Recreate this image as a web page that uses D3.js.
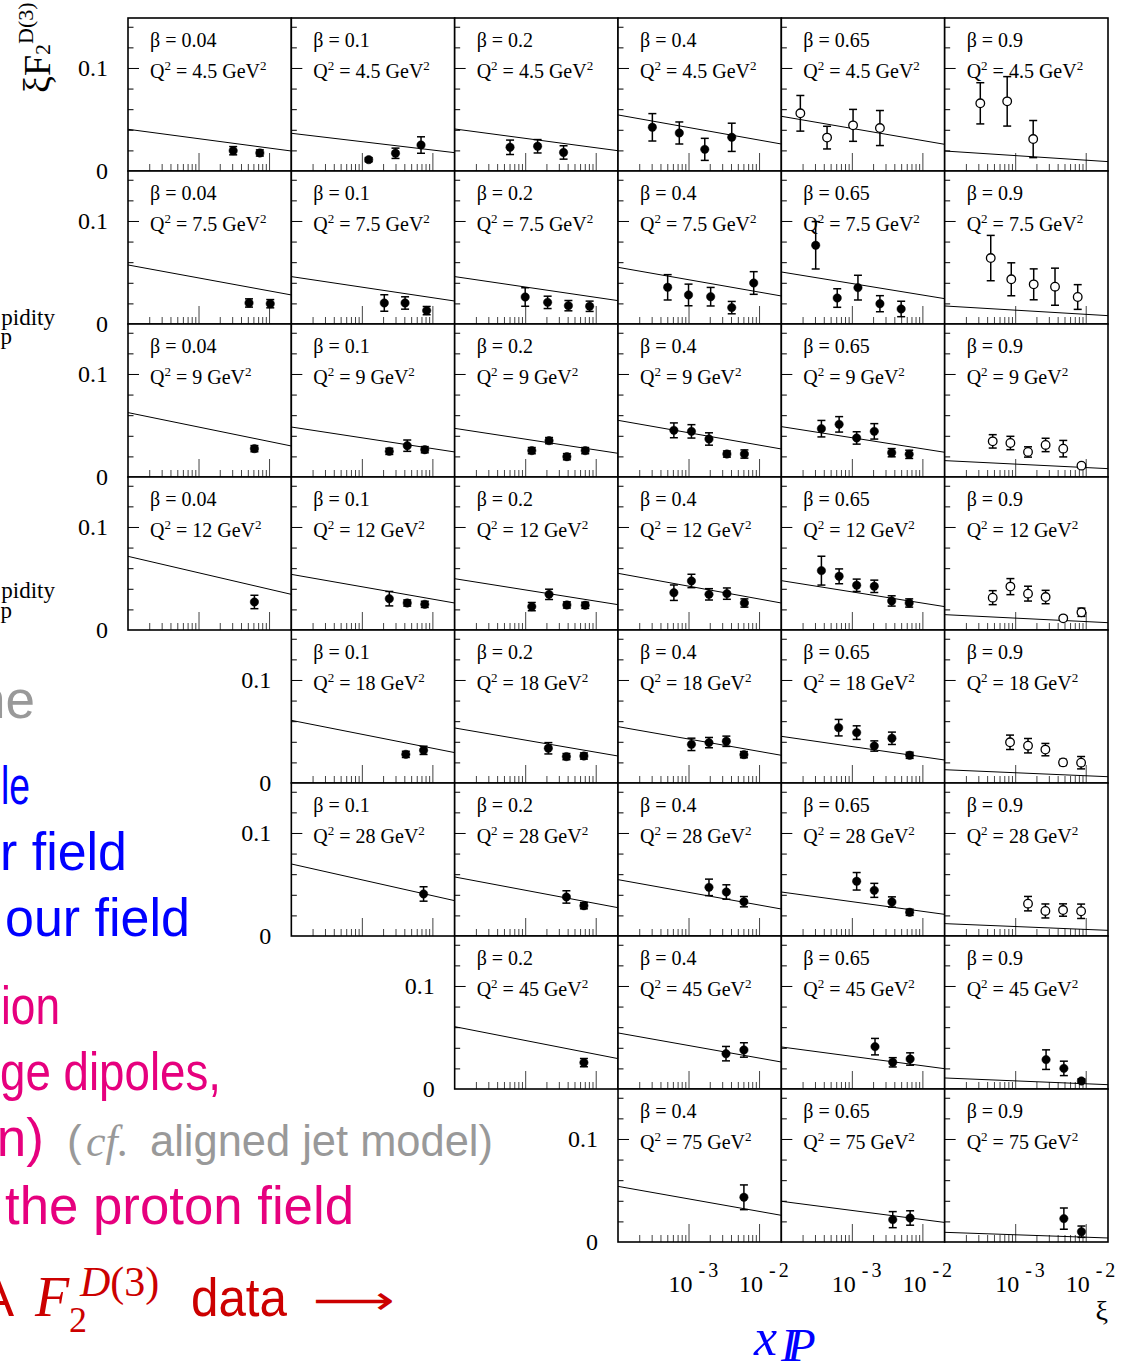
<!DOCTYPE html>
<html>
<head>
<meta charset="utf-8">
<script src="https://cdn.jsdelivr.net/npm/d3@7"></script>
<style>
  body { margin: 0; background: #fff; }
  svg { display: block; }
</style>
</head>
<body>
<svg id="chart" width="1135" height="1364"></svg>
<script>
// chart values
const betas = ["0.04", "0.1", "0.2", "0.4", "0.65", "0.9"];
const q2s = ["4.5", "7.5", "9", "12", "18", "28", "45", "75"];
const firstCol = [0, 0, 0, 0, 1, 1, 2, 3];
const yTickLabels = [[0, "0"], [0.1, "0.1"]];
const xTickLabels = [[1e-3, "-3"], [1e-2, "-2"]];

// model curve, value at left and right edge of every panel (row = Q2, col = beta)
const curveLeft = [
    [0.0405, 0.0366, 0.0408, 0.0544, 0.0531, 0.0194],
    [0.0573, 0.0460, 0.0460, 0.0550, 0.0505, 0.0175],
    [0.0625, 0.0485, 0.0472, 0.0550, 0.0489, 0.0159],
    [0.0715, 0.0540, 0.0498, 0.0550, 0.0479, 0.0149],
    [null, 0.0608, 0.0534, 0.0547, 0.0453, 0.0129],
    [null, 0.0699, 0.0573, 0.0547, 0.0427, 0.0120],
    [null, null, 0.0605, 0.0544, 0.0408, 0.0107],
    [null, null, null, 0.0540, 0.0395, 0.0094]
];
const curveRight = [
    [0.0194, 0.0178, 0.0197, 0.0262, 0.0259, 0.0091],
    [0.0282, 0.0223, 0.0227, 0.0272, 0.0246, 0.0081],
    [0.0301, 0.0243, 0.0230, 0.0272, 0.0240, 0.0081],
    [0.0346, 0.0262, 0.0246, 0.0262, 0.0227, 0.0071],
    [null, 0.0295, 0.0262, 0.0269, 0.0223, 0.0061],
    [null, 0.0343, 0.0275, 0.0262, 0.0210, 0.0055],
    [null, null, 0.0295, 0.0262, 0.0197, 0.0042],
    [null, null, null, 0.0259, 0.0190, 0.0039]
];

// data points: [beta index, xi, xi F2D3, error]
const ptsQ4_5 = [
    [0, 0.0031, 0.0197, 0.004], [0, 0.0074, 0.0175, 0.003],
    [1, 0.00125, 0.011, 0.002], [1, 0.0030, 0.0172, 0.005], [1, 0.0069, 0.0252, 0.008],
    [2, 0.00061, 0.023, 0.007], [2, 0.0015, 0.024, 0.0065], [2, 0.0035, 0.018, 0.0065],
    [3, 0.000307, 0.0424, 0.0133], [3, 0.00074, 0.0369, 0.0107], [3, 0.0017, 0.021, 0.0107], [3, 0.0041, 0.0327, 0.0137],
    [4, 0.000186, 0.056, 0.0173], [4, 0.000445, 0.0324, 0.011], [4, 0.00104, 0.0443, 0.0155], [4, 0.0025, 0.0417, 0.017],
    [5, 0.00032, 0.0657, 0.020], [5, 0.00077, 0.0676, 0.024], [5, 0.0018, 0.031, 0.018]
];
const ptsQ7_5 = [
    [0, 0.0052, 0.0204, 0.004], [0, 0.0104, 0.0197, 0.004],
    [1, 0.00208, 0.0204, 0.008], [1, 0.0041, 0.0204, 0.006], [1, 0.0083, 0.013, 0.004],
    [2, 0.0010, 0.0262, 0.009], [2, 0.00208, 0.021, 0.006], [2, 0.0041, 0.0178, 0.005], [2, 0.0082, 0.0172, 0.005],
    [3, 0.000506, 0.0356, 0.0123], [3, 0.0010, 0.0282, 0.0105], [3, 0.00206, 0.0265, 0.009], [3, 0.0041, 0.0159, 0.006], [3, 0.0084, 0.0398, 0.011],
    [4, 0.000307, 0.0764, 0.023], [4, 0.00062, 0.0252, 0.009], [4, 0.00122, 0.0353, 0.012], [4, 0.0025, 0.0197, 0.0078], [4, 0.0050, 0.0146, 0.0075],
    [5, 0.00045, 0.064, 0.022], [5, 0.00088, 0.0434, 0.016], [5, 0.00183, 0.0385, 0.015], [5, 0.00367, 0.0362, 0.018], [5, 0.0077, 0.0262, 0.012]
];
const ptsQ9 = [
    [0, 0.0062, 0.0275, 0.003],
    [1, 0.00245, 0.0249, 0.003], [1, 0.0044, 0.0304, 0.0055], [1, 0.0078, 0.0265, 0.003],
    [2, 0.00124, 0.0256, 0.003], [2, 0.00218, 0.0353, 0.003], [2, 0.0039, 0.0197, 0.003], [2, 0.0071, 0.0256, 0.003],
    [3, 0.00062, 0.0453, 0.0072], [3, 0.0011, 0.0443, 0.0065], [3, 0.00195, 0.0369, 0.006], [3, 0.0035, 0.0223, 0.003], [3, 0.0062, 0.0223, 0.004],
    [4, 0.00037, 0.0469, 0.008], [4, 0.00066, 0.0511, 0.0075], [4, 0.00117, 0.0379, 0.006], [4, 0.00208, 0.0443, 0.0075], [4, 0.00367, 0.0236, 0.004], [4, 0.0065, 0.022, 0.004],
    [5, 0.00048, 0.0346, 0.0065], [5, 0.000855, 0.033, 0.0065], [5, 0.00152, 0.0243, 0.005], [5, 0.0027, 0.0311, 0.0065], [5, 0.0048, 0.0275, 0.008], [5, 0.0087, 0.011, 0.002]
];
const ptsQ12 = [
    [0, 0.0062, 0.0272, 0.0065],
    [1, 0.00245, 0.0304, 0.007], [1, 0.0044, 0.0262, 0.003], [1, 0.0078, 0.0249, 0.003],
    [2, 0.00124, 0.0227, 0.004], [2, 0.00218, 0.0346, 0.005], [2, 0.0039, 0.0243, 0.003], [2, 0.0071, 0.024, 0.003],
    [3, 0.00062, 0.0362, 0.0075], [3, 0.0011, 0.0476, 0.0065], [3, 0.00195, 0.0346, 0.0055], [3, 0.0035, 0.0353, 0.0055], [3, 0.0062, 0.0262, 0.004],
    [4, 0.00037, 0.0576, 0.014], [4, 0.00066, 0.0521, 0.0072], [4, 0.00117, 0.0434, 0.006], [4, 0.00208, 0.0424, 0.006], [4, 0.00367, 0.0282, 0.005], [4, 0.0065, 0.0262, 0.004],
    [5, 0.00048, 0.0314, 0.0068], [5, 0.000855, 0.0421, 0.0078], [5, 0.00152, 0.0353, 0.0072], [5, 0.0027, 0.032, 0.0065], [5, 0.0048, 0.0113, 0.002], [5, 0.0087, 0.0172, 0.004]
];
const ptsQ18 = [
    [1, 0.0042, 0.0278, 0.003], [1, 0.0075, 0.0317, 0.004],
    [2, 0.00213, 0.0337, 0.0055], [2, 0.00384, 0.0256, 0.003], [2, 0.0068, 0.0262, 0.003],
    [3, 0.0011, 0.0375, 0.006], [3, 0.00195, 0.0392, 0.005], [3, 0.00344, 0.0405, 0.005], [3, 0.0061, 0.0275, 0.003],
    [4, 0.00065, 0.0537, 0.008], [4, 0.00117, 0.0489, 0.0066], [4, 0.00208, 0.0359, 0.005], [4, 0.0037, 0.0434, 0.006], [4, 0.0066, 0.0269, 0.003],
    [5, 0.000845, 0.0395, 0.007], [5, 0.00152, 0.0362, 0.007], [5, 0.00268, 0.0324, 0.006], [5, 0.00477, 0.020, 0.003], [5, 0.0086, 0.0197, 0.006]
];
const ptsQ28 = [
    [1, 0.0075, 0.0408, 0.007],
    [2, 0.00384, 0.0379, 0.006], [2, 0.0068, 0.0294, 0.003],
    [3, 0.00195, 0.0472, 0.008], [3, 0.00344, 0.0427, 0.007], [3, 0.0061, 0.0333, 0.005],
    [4, 0.00117, 0.0531, 0.0085], [4, 0.00208, 0.0443, 0.0068], [4, 0.0037, 0.033, 0.005], [4, 0.0066, 0.023, 0.003],
    [5, 0.00152, 0.0314, 0.007], [5, 0.00268, 0.0243, 0.0068], [5, 0.00477, 0.0252, 0.006], [5, 0.0086, 0.024, 0.007]
];
const ptsQ45 = [
    [2, 0.0068, 0.0256, 0.004],
    [3, 0.0034, 0.0343, 0.007], [3, 0.0061, 0.0379, 0.007],
    [4, 0.00213, 0.0411, 0.008], [4, 0.0038, 0.0259, 0.0045], [4, 0.0067, 0.0291, 0.006],
    [5, 0.00274, 0.0285, 0.0095], [5, 0.0049, 0.020, 0.007], [5, 0.0087, 0.0078, 0.002]
];
const ptsQ75 = [
    [3, 0.0061, 0.0434, 0.012],
    [4, 0.0038, 0.0217, 0.0078], [4, 0.0067, 0.0233, 0.007],
    [5, 0.0049, 0.0227, 0.0103], [5, 0.0087, 0.010, 0.0055]
];
const pointsByRow = [ptsQ4_5, ptsQ7_5, ptsQ9, ptsQ12, ptsQ18, ptsQ28, ptsQ45, ptsQ75];

// panels drawn with open markers: [row, col]
const openPanels = [[0, 4], [0, 5], [1, 5], [2, 5], [3, 5], [4, 5], [5, 5]];

const serif = "'Liberation Serif', 'Times New Roman', serif";
const sans = "'Liberation Sans', Arial, sans-serif";

let svg = d3.select("#chart");

// slide text left behind the figure
function slideText(txt, xPos, yPos, size, color, anchor, family, style) {
    return svg.append("text")
        .attr("x", xPos)
        .attr("y", yPos)
        .attr("font-size", size)
        .attr("font-family", family || sans)
        .attr("font-style", style || "normal")
        .attr("text-anchor", anchor || "start")
        .attr("fill", color)
        .text(txt);
}
function fit(t, len) {
    return t.attr("textLength", len).attr("lengthAdjust", "spacingAndGlyphs");
}
slideText("pidity", 55, 325, 23, "#000", "end", serif);
slideText("p", 12, 344, 23, "#000", "end", serif);
slideText("pidity", 55, 598, 23, "#000", "end", serif);
slideText("p", 12, 618, 23, "#000", "end", serif);
slideText("ne", 35, 718, 53, "#999999", "end");
fit(slideText("le", 1, 804, 53, "#0000ff"), 29);
fit(slideText("r field", 0, 870, 53, "#0000ff"), 127);
fit(slideText("our field", 5, 936, 53, "#0000ff"), 185);
fit(slideText("ion", 1, 1024, 53, "#e6007e"), 59);
fit(slideText("ge dipoles,", 0, 1090, 53, "#e6007e"), 221);
slideText("n)", 44, 1156, 53, "#e6007e", "end");
slideText("(", 67, 1156, 44, "#999999");
slideText("cf.", 86, 1156, 44, "#999999", "start", serif, "italic");
fit(slideText("aligned jet model)", 150, 1156, 44, "#999999"), 343);
fit(slideText("the proton field", 5, 1224, 53, "#e6007e"), 349);
slideText("A", 14, 1316, 53, "#cc0000", "end");
slideText("F", 35, 1316, 56, "#cc0000", "start", serif, "italic");
slideText("2", 69, 1332, 36, "#cc0000", "start", serif);
let sup = slideText("", 80, 1296, 42, "#cc0000", "start", serif);
sup.append("tspan").attr("font-style", "italic").text("D");
sup.append("tspan").text("(3)");
fit(slideText("data", 191, 1316, 53, "#cc0000"), 96);
fit(slideText("\u27F6", 313, 1314, 40, "#cc0000", "start", "'DejaVu Sans', sans-serif"), 82);
let xip = slideText("x", 754, 1355, 52, "#0000ff", "start", serif, "italic");
xip.append("tspan").attr("font-size", 46).attr("dy", 6).attr("dx", 4)
    .attr("letter-spacing", -9).text("IP");

// panel layout and scales
let colX = d3.scaleLinear().domain([0, 6]).range([128, 1108]);
let rowY = d3.scaleLinear().domain([0, 8]).range([18, 1242]);
let pw = colX(1) - colX(0);
let ph = rowY(1) - rowY(0);
let x = d3.scaleLog().domain([1e-4, 0.0207]).range([0, pw]);
let y = d3.scaleLinear().domain([0, 0.1485]).range([ph, 0]);

function isDecade(t) {
    let l = Math.log10(t);
    return Math.abs(l - Math.round(l)) < 1e-6;
}
let xMajor = [1e-3, 1e-2];
let xMinor = x.ticks().filter(function (t) {
    return !isDecade(t) && t < 1e-2;
});
let yMajor = [0.1];
let yMinor = [0.02, 0.04, 0.06, 0.08, 0.12, 0.14];

let line = d3.line()
    .x(function (d) { return x(d[0]); })
    .y(function (d) { return y(d[1]); });

function tickGroup(g, axis, tr, color) {
    let t = g.append("g").attr("transform", tr).call(axis);
    t.select(".domain").remove();
    t.selectAll("line").attr("stroke", color).attr("stroke-width", 1);
    return t;
}

// y axis title
let yt = svg.append("text")
    .attr("transform", "translate(50,93) rotate(-90)")
    .attr("font-family", serif)
    .attr("font-size", 38);
yt.append("tspan").text("\u03BEF");
yt.append("tspan").attr("font-size", 22).text("2");
yt.append("tspan").attr("font-size", 22).attr("dy", -17).text("D(3)");

q2s.forEach(function (q, r) {
    for (let c = firstCol[r]; c < betas.length; c++) {
        let g = svg.append("g")
            .attr("transform", "translate(" + colX(c) + "," + rowY(r) + ")");
        let clipId = "clip-" + r + "-" + c;
        g.append("clipPath").attr("id", clipId)
            .append("rect").attr("width", pw).attr("height", ph);
        g.append("rect").attr("width", pw).attr("height", ph).attr("fill", "#fff");

        // ticks, pointing inward
        tickGroup(g, d3.axisBottom(x).tickValues(xMinor).tickSize(-7).tickFormat(""),
            "translate(0," + ph + ")", "#444");
        tickGroup(g, d3.axisBottom(x).tickValues(xMajor).tickSize(-18).tickFormat(""),
            "translate(0," + ph + ")", "#444");
        tickGroup(g, d3.axisLeft(y).tickValues(yMinor).tickSize(-5.5).tickFormat(""),
            "translate(0,0)", "#000");
        tickGroup(g, d3.axisLeft(y).tickValues(yMajor).tickSize(-11).tickFormat(""),
            "translate(0,0)", "#000");

        // model curve
        let xr = x.domain();
        g.append("path")
            .attr("clip-path", "url(#" + clipId + ")")
            .attr("d", line([[xr[0], curveLeft[r][c]], [xr[1], curveRight[r][c]]]))
            .attr("fill", "none")
            .attr("stroke", "#000")
            .attr("stroke-width", 1);

        // data points
        let open = openPanels.some(function (p) { return p[0] === r && p[1] === c; });
        let pts = pointsByRow[r].filter(function (p) { return p[0] === c; });
        let eb = g.append("g").attr("stroke", "#000").attr("stroke-width", 1.5);
        pts.forEach(function (p) {
            let px = x(p[1]);
            eb.append("line").attr("x1", px).attr("x2", px)
                .attr("y1", y(p[2] - p[3])).attr("y2", y(p[2] + p[3]));
            [p[2] - p[3], p[2] + p[3]].forEach(function (v) {
                eb.append("line").attr("x1", px - 4).attr("x2", px + 4)
                    .attr("y1", y(v)).attr("y2", y(v));
            });
        });
        g.selectAll("circle.pt").data(pts).enter().append("circle")
            .attr("class", "pt")
            .attr("cx", function (d) { return x(d[1]); })
            .attr("cy", function (d) { return y(d[2]); })
            .attr("r", open ? 4.3 : 4.2)
            .attr("fill", open ? "#fff" : "#000")
            .attr("stroke", "#000")
            .attr("stroke-width", open ? 1.3 : 0.5);

        // frame
        g.append("rect").attr("width", pw).attr("height", ph)
            .attr("fill", "none").attr("stroke", "#000").attr("stroke-width", 1.6);

        // labels
        g.append("text").attr("x", 22).attr("y", 29)
            .attr("font-family", serif).attr("font-size", 20)
            .text("\u03B2 = " + betas[c]);
        let ql = g.append("text").attr("x", 22).attr("y", 60)
            .attr("font-family", serif).attr("font-size", 20);
        ql.append("tspan").text("Q");
        ql.append("tspan").attr("font-size", 13).attr("dy", -8).text("2");
        ql.append("tspan").attr("dy", 8).text(" = " + q + " GeV");
        ql.append("tspan").attr("font-size", 13).attr("dy", -8).text("2");

        if (c === firstCol[r]) {
            yTickLabels.forEach(function (t) {
                g.append("text")
                    .attr("x", -20)
                    .attr("y", y(t[0]))
                    .attr("dy", "0.35em")
                    .attr("text-anchor", "end")
                    .attr("font-family", serif)
                    .attr("font-size", 24)
                    .text(t[1]);
            });
        }
        if (r === q2s.length - 1) {
            xTickLabels.forEach(function (t) {
                let lab = g.append("text")
                    .attr("x", x(t[0]) - 20)
                    .attr("y", ph + 50)
                    .attr("font-family", serif)
                    .attr("font-size", 24);
                lab.append("tspan").text("10");
                lab.append("tspan").attr("dx", 6).attr("dy", -15)
                    .attr("font-size", 20).attr("letter-spacing", 3).text(t[1]);
            });
        }
    }
});

// x axis title
svg.append("text")
    .attr("x", colX(6))
    .attr("y", 1320)
    .attr("text-anchor", "end")
    .attr("font-family", serif)
    .attr("font-size", 28)
    .text("\u03BE");
</script>
</body>
</html>
